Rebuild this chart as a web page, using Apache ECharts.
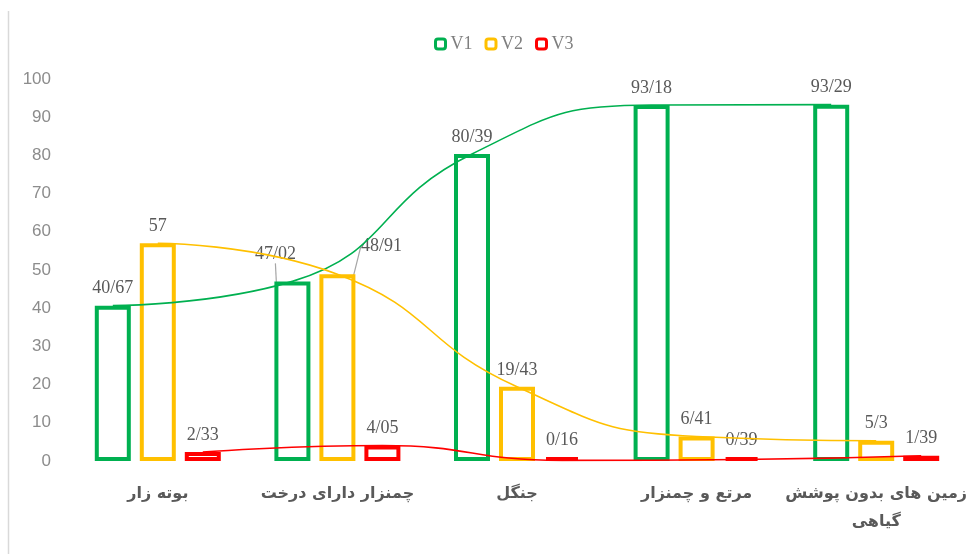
<!DOCTYPE html>
<html>
<head>
<meta charset="utf-8">
<script src="https://cdn.jsdelivr.net/npm/echarts@6/dist/echarts.min.js"></script>
<style>
  html, body { margin: 0; background: #fff; }
  #chart { width: 976px; height: 554px; }
</style>
</head>
<body>
<div id="chart"></div>
<script>
const categories = ["بوته زار", "چمنزار دارای درخت", "جنگل", "مرتع و چمنزار", "زمین های بدون پوشش\nگیاهی"];
const v1 = [40.67, 47.02, 80.39, 93.18, 93.29];
const v2 = [57, 48.91, 19.43, 6.41, 5.3];
const v3 = [2.33, 4.05, 0.16, 0.39, 1.39];
const seriesNames = ["V1", "V2", "V3"];
const colors = ["#00b050", "#ffc000", "#ff0000"];
const yMin = 0, yMax = 100, yStep = 10;

const gridLeft = 68, gridRight = 10;
const barWidth = 36, barSpace = 9;
const band = (976 - gridLeft - gridRight) / categories.length;
const pitch = (barWidth + barSpace) / band; // bar centre spacing in category units

// labels that sit away from their bar and get a leader line
const movedLabels = { 0: { index: 1, dx: -17, dy: -10 }, 1: { index: 1, dx: 44, dy: -11 } };

const fmt = (v) => String(v).replace(".", "/");

const chart = echarts.init(document.getElementById("chart"));

const bars = [v1, v2, v3].map((values, k) => {
  const moved = movedLabels[k];
  return {
    name: seriesNames[k],
    type: "bar",
    data: values.map((v, i) =>
      moved && moved.index === i
        ? { value: v, labelLine: { show: true, lineStyle: { color: "#a6a6a6", width: 1.2 } } }
        : v
    ),
    barWidth: barWidth,
    barGap: (barSpace / barWidth * 100) + "%",
    barMinHeight: 4,
    itemStyle: { color: "#fff", borderColor: colors[k], borderWidth: 4 },
    label: {
      show: true,
      position: "top",
      distance: 8,
      color: "#595959",
      fontFamily: "Liberation Serif",
      fontSize: 18,
      formatter: (p) => fmt(p.value),
    },
    labelLayout: (p) => (moved && p.dataIndex === moved.index ? { dx: moved.dx, dy: moved.dy } : {}),
    z: 2,
  };
});

const lines = [v1, v2, v3].map((values, k) => ({
  name: seriesNames[k] + " line",
  type: "line",
  xAxisIndex: 1,
  smooth: 0.5,
  symbol: "none",
  data: values.map((v, i) => [i + (k - 1) * pitch, v]),
  lineStyle: { color: colors[k], width: 1.6 },
  z: 3,
  silent: true,
}));

chart.setOption({
  animation: false,
  backgroundColor: "#fff",
  legend: {
    data: seriesNames,
    left: 429,
    top: 30,
    itemWidth: 10,
    itemHeight: 10,
    itemGap: 12,
    itemStyle: { borderWidth: 3 },
    textStyle: { color: "#7f7f7f", fontFamily: "Liberation Serif", fontSize: 18 },
  },
  grid: { left: gridLeft, right: gridRight, top: 79, bottom: 93, outerBoundsMode: "none" },
  xAxis: [
    {
      type: "category",
      data: categories,
      axisLine: { show: false },
      axisTick: { show: false },
      axisLabel: {
        margin: 19,
        color: "#595959",
        fontFamily: "DejaVu Sans",
        fontWeight: "bold",
        fontSize: 16,
        lineHeight: 28,
        interval: 0,
      },
    },
    { type: "value", min: -0.5, max: categories.length - 0.5, show: false },
  ],
  yAxis: {
    type: "value",
    min: yMin,
    max: yMax,
    interval: yStep,
    axisLine: { show: false },
    axisTick: { show: false },
    splitLine: { show: false },
    axisLabel: { color: "#8c8c8c", fontFamily: "Liberation Sans", fontSize: 17, margin: 17 },
  },
  graphic: [
    {
      type: "line",
      shape: { x1: 8.5, y1: 11, x2: 8.5, y2: 554 },
      style: { stroke: "#d9d9d9", lineWidth: 1.5 },
    },
  ],
  series: [...bars, ...lines],
});
</script>
</body>
</html>
